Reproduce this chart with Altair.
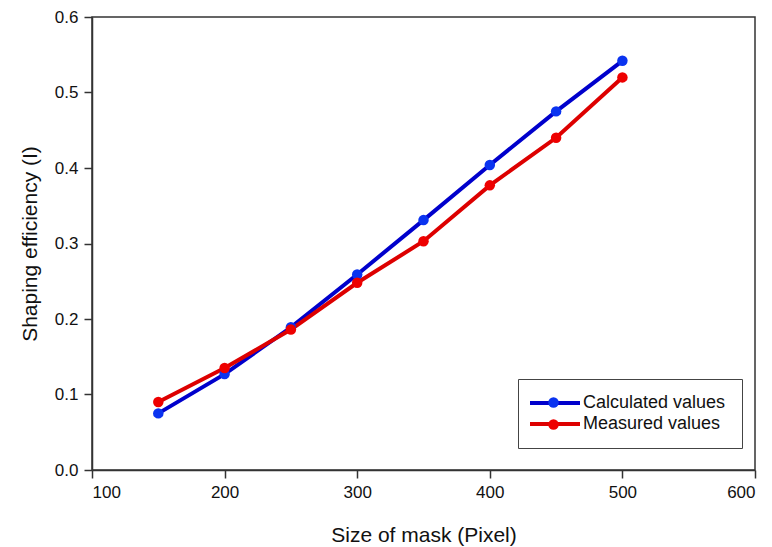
import altair as alt
import pandas as pd

sizes = [150, 200, 250, 300, 350, 400, 450, 500]
calculated = [0.075, 0.127, 0.189, 0.259, 0.331, 0.404, 0.475, 0.542]
measured = [0.090, 0.135, 0.186, 0.248, 0.303, 0.377, 0.440, 0.520]
series_names = ["Calculated values", "Measured values"]
marker_names = ["Calculated values ", "Measured values "]
line_colors = ["#0000cc", "#dd0000"]
point_colors = ["#0a33f0", "#ee0000"]
x_ticks = [100, 200, 300, 400, 500, 600]
y_ticks = [0.0, 0.1, 0.2, 0.3, 0.4, 0.5, 0.6]

rows = []
for name, mname, vals in zip(series_names, marker_names, [calculated, measured]):
    for s, v in zip(sizes, vals):
        rows.append({"size": s, "eff": v, "series": name, "marker": mname})
df = pd.DataFrame(rows)

FONT = "Liberation Sans"

x = alt.X(
    "size:Q",
    scale=alt.Scale(domain=[100, 600], nice=False),
    axis=alt.Axis(values=x_ticks, title="Size of mask (Pixel)", format="d",
                  tickSize=8, labelPadding=6, titlePadding=24),
)
y = alt.Y(
    "eff:Q",
    scale=alt.Scale(domain=[0, 0.6], nice=False),
    axis=alt.Axis(values=y_ticks, title="Shaping efficiency (I)", format=".1f",
                  tickSize=8, labelPadding=6, titlePadding=14),
)

# legend line symbol: a horizontal stroke (custom path, scaled by sqrt(size)/2)
line_symbol = "M-5,0L5,0"

lines = alt.Chart(df).mark_line(strokeWidth=4).encode(
    x=x, y=y,
    color=alt.Color(
        "series:N",
        scale=alt.Scale(domain=series_names, range=line_colors),
        legend=alt.Legend(
            title=None, orient="none", legendX=454, legendY=377,
            symbolType=line_symbol, symbolSize=100, symbolStrokeWidth=4,
            labelFontSize=18, labelFont=FONT, labelColor="#111111",
            padding=0, rowPadding=3, labelOffset=19, zindex=1,
        ),
    ),
    detail="series:N",
)

points = alt.Chart(df).mark_circle(size=110, opacity=1).encode(
    x=x, y=y,
    fill=alt.Fill(
        "marker:N",
        scale=alt.Scale(domain=marker_names, range=point_colors),
        legend=alt.Legend(
            title=None, orient="none", legendX=426, legendY=362,
            symbolType="circle", symbolSize=110, symbolOpacity=1,
            symbolOffset=12, labelExpr="''",
            labelFontSize=10, labelFont=FONT, labelOffset=165,
            strokeColor="#444444", padding=17.5, rowPadding=10, zindex=2,
        ),
    ),
)

chart = (
    alt.layer(lines, points)
    .properties(
        width=663, height=453,
        background="white",
        autosize=alt.AutoSizeParams(type="none"),
        padding={"left": 92, "top": 17, "right": 17, "bottom": 77},
    )
    .configure_view(stroke="#333333", strokeWidth=1.5)
    .configure_axis(
        grid=False, domainColor="#333333", domainWidth=1.5, tickColor="#333333",
        tickWidth=1.5, labelFont=FONT, labelFontSize=17, labelColor="#111111",
        titleFont=FONT, titleFontSize=21, titleFontWeight="normal", titleColor="#111111",
    )
)

chart.save("out.html", embed_options={"renderer": "svg", "actions": False})
